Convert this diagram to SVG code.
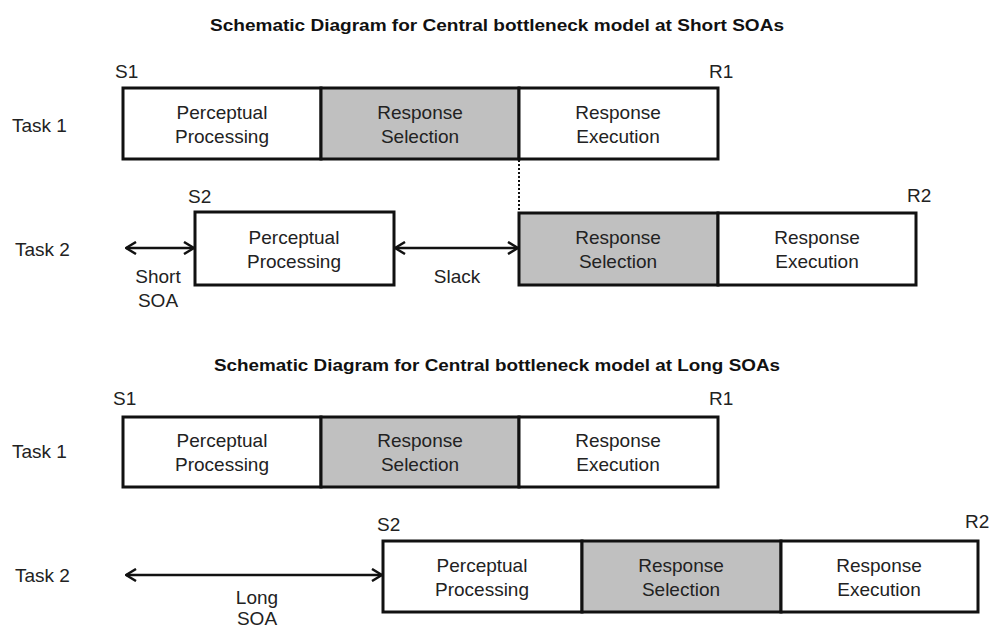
<svg xmlns="http://www.w3.org/2000/svg" width="996" height="630" viewBox="0 0 996 630">
<defs>
<marker id="ah" viewBox="0 0 12 14" refX="11" refY="7" markerWidth="12" markerHeight="14" markerUnits="userSpaceOnUse" orient="auto-start-reverse">
<path d="M1,1 L11,7 L1,13" fill="none" stroke="#111" stroke-width="2.5"/>
</marker>
<style>
.box{stroke:#111;stroke-width:3;fill:#fff}
.sel{fill:#c0c0c0}
.t{font-family:"Liberation Sans",Arial,sans-serif;font-size:19px;fill:#222;text-anchor:middle}
.l{font-family:"Liberation Sans",Arial,sans-serif;font-size:19px;fill:#222}
.h{font-family:"Liberation Sans",Arial,sans-serif;font-size:17px;font-weight:bold;fill:#111;text-anchor:middle}
.c{stroke:#111;stroke-width:2.5;fill:none}
</style>
</defs>
<rect width="996" height="630" fill="#fff"/>
<text class="h" x="497" y="31" textLength="574" lengthAdjust="spacingAndGlyphs">Schematic Diagram for Central bottleneck model at Short SOAs</text>
<text class="h" x="497" y="371" textLength="566" lengthAdjust="spacingAndGlyphs">Schematic Diagram for Central bottleneck model at Long SOAs</text>

<text class="l" x="12" y="132">Task 1</text>
<text class="l" x="15" y="256">Task 2</text>
<text class="l" x="12" y="458">Task 1</text>
<text class="l" x="15" y="582">Task 2</text>

<text class="l" x="115" y="78">S1</text>
<text class="l" x="709" y="78">R1</text>
<text class="l" x="188" y="203">S2</text>
<text class="l" x="907" y="202">R2</text>
<text class="l" x="113" y="405">S1</text>
<text class="l" x="709" y="405">R1</text>
<text class="l" x="377" y="531">S2</text>
<text class="l" x="965" y="528">R2</text>

<g id="short-t1-pp"><rect class="box" x="123" y="88" width="198" height="71"/><text class="t" x="222" y="119">Perceptual</text><text class="t" x="222" y="143">Processing</text></g>
<g id="short-t1-rs"><rect class="box sel" x="321" y="88" width="198" height="71"/><text class="t" x="420" y="119">Response</text><text class="t" x="420" y="143">Selection</text></g>
<g id="short-t1-re"><rect class="box" x="519" y="88" width="199" height="71"/><text class="t" x="618" y="119">Response</text><text class="t" x="618" y="143">Execution</text></g>

<g id="short-t2-pp"><rect class="box" x="195" y="212" width="199" height="73"/><text class="t" x="294" y="244">Perceptual</text><text class="t" x="294" y="268">Processing</text></g>
<g id="short-t2-rs"><rect class="box sel" x="519" y="213" width="199" height="72"/><text class="t" x="618" y="244">Response</text><text class="t" x="618" y="268">Selection</text></g>
<g id="short-t2-re"><rect class="box" x="718" y="213" width="198" height="72"/><text class="t" x="817" y="244">Response</text><text class="t" x="817" y="268">Execution</text></g>

<g id="long-t1-pp"><rect class="box" x="123" y="417" width="198" height="70"/><text class="t" x="222" y="447">Perceptual</text><text class="t" x="222" y="471">Processing</text></g>
<g id="long-t1-rs"><rect class="box sel" x="321" y="417" width="198" height="70"/><text class="t" x="420" y="447">Response</text><text class="t" x="420" y="471">Selection</text></g>
<g id="long-t1-re"><rect class="box" x="519" y="417" width="199" height="70"/><text class="t" x="618" y="447">Response</text><text class="t" x="618" y="471">Execution</text></g>

<g id="long-t2-pp"><rect class="box" x="383" y="541" width="199" height="71"/><text class="t" x="482" y="572">Perceptual</text><text class="t" x="482" y="596">Processing</text></g>
<g id="long-t2-rs"><rect class="box sel" x="582" y="541" width="199" height="71"/><text class="t" x="681" y="572">Response</text><text class="t" x="681" y="596">Selection</text></g>
<g id="long-t2-re"><rect class="box" x="781" y="541" width="197" height="71"/><text class="t" x="879" y="572">Response</text><text class="t" x="879" y="596">Execution</text></g>

<g id="connectors">
<line x1="519" y1="160" x2="519" y2="212" stroke="#111" stroke-width="2" stroke-dasharray="2,2"/>
<line class="c" x1="126" y1="248" x2="194" y2="248" marker-start="url(#ah)" marker-end="url(#ah)"/>
<line class="c" x1="395" y1="248" x2="518" y2="248" marker-start="url(#ah)" marker-end="url(#ah)"/>
<line class="c" x1="126" y1="575" x2="382" y2="575" marker-start="url(#ah)" marker-end="url(#ah)"/>
</g>

<text class="t" x="158" y="283">Short</text>
<text class="t" x="158" y="307">SOA</text>
<text class="t" x="457" y="283">Slack</text>
<text class="t" x="257" y="604">Long</text>
<text class="t" x="257" y="625">SOA</text>
</svg>
